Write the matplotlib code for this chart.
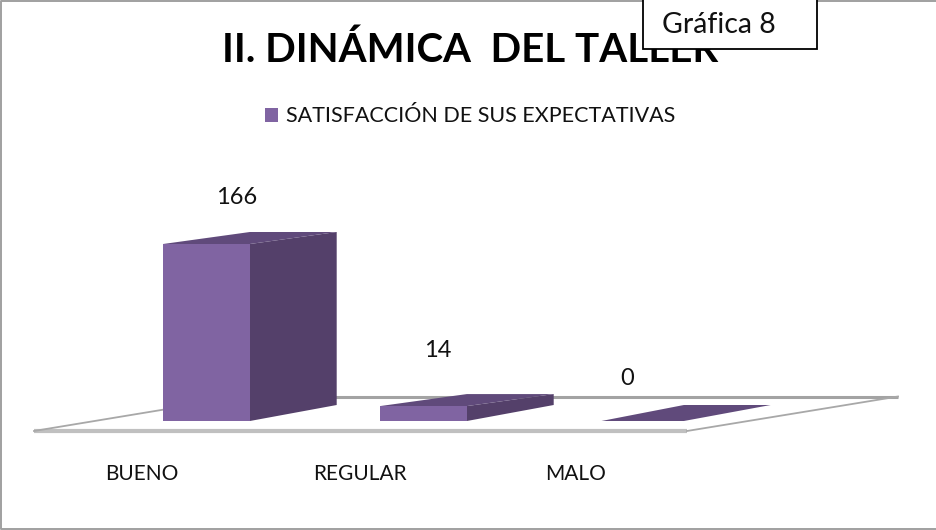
import matplotlib
matplotlib.use('Agg')
import matplotlib.pyplot as plt
from matplotlib.patches import Patch, Polygon, Rectangle
from matplotlib.transforms import Affine2D

categories = ['BUENO', 'REGULAR', 'MALO']
values = [166, 14, 0]
series_name = 'SATISFACCIÓN DE SUS EXPECTATIVAS'
title = 'II. DINÁMICA  DEL TALLER'
box_label = 'Gráfica 8'

W, H = 937, 530
FRONT = '#8064a2'
SIDE = '#54406a'
TOP = '#604a7b'

# value labels drift with the perspective of the 3d view
label_dx = [0.14, 0.065, -0.06]
label_dy = [44, 52, 40]
cat_dx = [-0.3, -0.295, -0.3]

plt.rcParams['font.family'] = ['Lato', 'DejaVu Sans']

fig = plt.figure(figsize=(W / 100, H / 100), dpi=100)
ax = fig.add_axes([0, 0, 1, 1])
ax.axis('off')

# one category = 217 px, one unit of value = 177/166 px, baseline at y=421
px_x = 217
px_y = 177 / 166
ax.set_xlim(-206.5 / px_x, (W - 206.5) / px_x)
ax.set_ylim(-(H - 421) / px_y, 421 / px_y)

bar_w = 0.4
depth_x = 0.4
depth_base = 16 / px_y
depth_top = 12 / px_y

# pixel coordinates, y going down, for the frame pieces
px = Affine2D().scale(1, -1).translate(0, H)

# floor
ax.plot([34, 687], [431, 431], color='#c0c0c0', lw=3, transform=px, solid_capstyle='butt', zorder=1)
ax.plot([243, 898], [396.5, 396.5], color='#a3a3a3', lw=2.2, transform=px, solid_capstyle='butt', zorder=1)
ax.plot([34, 243], [431, 396.5], color='#a8a8a8', lw=1.3, transform=px, zorder=1)
ax.plot([687, 898], [431, 396.5], color='#a8a8a8', lw=1.3, transform=px, zorder=1)

# bars
for i, (cat, v) in enumerate(zip(categories, values)):
    x0 = i - bar_w / 2
    x1 = i + bar_w / 2
    if v > 0:
        back_top = v + depth_top
        ax.add_patch(Polygon([(x1, 0), (x1, v), (x1 + depth_x, back_top), (x1 + depth_x, depth_base)],
                             fc=SIDE, ec='none', zorder=2))
        ax.add_patch(Polygon([(x0, v), (x1, v), (x1 + depth_x, back_top), (x0 + depth_x, back_top)],
                             fc=TOP, ec='none', zorder=2))
        ax.bar(i, v, width=bar_w, color=FRONT, zorder=3)
    else:
        ax.add_patch(Polygon([(x0 + 0.02, 0), (x1, 0), (x1 + depth_x, depth_base), (x0 + depth_x, depth_base)],
                             fc=TOP, ec='none', zorder=2))
    ax.text(i + label_dx[i], v + label_dy[i], str(v), ha='center', va='center', fontsize=17,
            color='#111111', zorder=5)
    ax.text(i + cat_dx[i], -50, cat, ha='center', va='center', fontsize=15, color='#111111', zorder=5)

# title and legend
ax.text(222, 62, title, transform=px, ha='left', va='baseline', fontsize=29, fontweight='bold',
        color='black', zorder=4)
handle = Patch(facecolor=FRONT, edgecolor='none')
fig.legend([handle], [series_name], loc='center', bbox_to_anchor=(470.5 / W, 1 - 116.5 / H),
           frameon=False, fontsize=15.5, handlelength=0.6, handleheight=0.6, handletextpad=0.37,
           labelcolor='#111111')

# text box on top of the title
ax.add_patch(Rectangle((643, -2), 174, 51, transform=px, fc='white', ec='black', lw=1.3, zorder=6))
ax.text(718.5, 25, box_label, transform=px, ha='center', va='center', fontsize=20.5, color='#111111', zorder=7)

# outer border, open on the right
ax.plot([W, 1, 1, W], [1, 1, 529, 529], color='#a0a0a0', lw=1.4, transform=px, zorder=0)

fig.savefig('out.png', dpi=100)
